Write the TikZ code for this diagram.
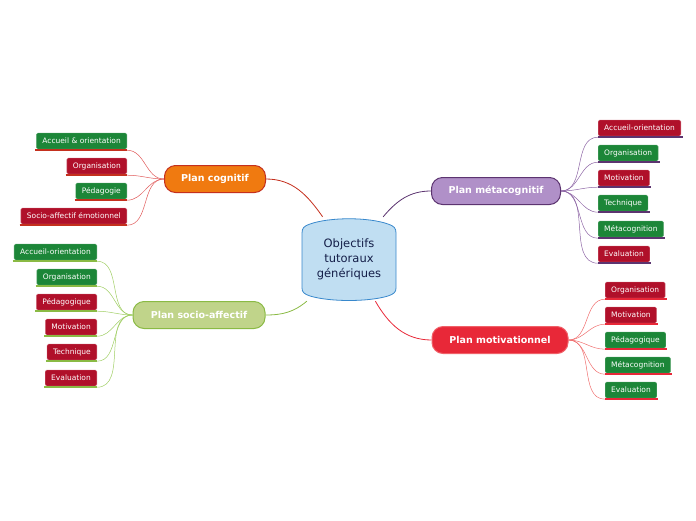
\documentclass[tikz,border=0pt]{standalone}
\usepackage{fontspec}
\setmainfont{DejaVu Sans}
\usetikzlibrary{backgrounds}

\definecolor{leafgreen}{RGB}{28,134,56}
\definecolor{leafred}{RGB}{176,16,42}
\definecolor{hubfill}{RGB}{192,222,242}
\definecolor{hubdraw}{RGB}{56,136,204}
\definecolor{hubtext}{RGB}{20,30,72}
\definecolor{cogfill}{RGB}{240,122,16}
\definecolor{cogdraw}{RGB}{196,48,30}
\definecolor{cogwire}{RGB}{224,90,90}
\definecolor{socfill}{RGB}{192,212,138}
\definecolor{socdraw}{RGB}{138,186,68}
\definecolor{socwire}{RGB}{160,206,100}
\definecolor{metafill}{RGB}{176,144,200}
\definecolor{metadraw}{RGB}{92,52,112}
\definecolor{metawire}{RGB}{140,100,164}
\definecolor{motfill}{RGB}{232,40,56}
\definecolor{motdraw}{RGB}{240,96,104}
\definecolor{motwire}{RGB}{240,110,110}

\begin{document}
\begin{tikzpicture}[
    x=1pt, y=-1pt,
    every node/.style={font=\fontsize{7.5}{9}\selectfont},
    hub/.style={
        fill=hubfill,
        draw=hubdraw,
        line width=0.8pt,
    },
    plan/.style={
        rounded corners=11pt,
        minimum height=27pt,
        inner xsep=0pt,
        text=white,
        line width=1pt,
        font=\fontsize{9.5}{11}\selectfont\bfseries,
    },
    leaf/.style={
        rounded corners=1.5pt,
        minimum height=16pt,
        inner xsep=6pt,
        inner ysep=0pt,
        text=white,
        line width=0.4pt,
    },
    greenleaf/.style={leaf, fill=leafgreen, draw=leafgreen!70!white},
    redleaf/.style={leaf, fill=leafred, draw=leafred!60!white},
    wire/.style={line width=0.5pt},
    bar/.style={line width=1.5pt},
]

\useasboundingbox (0,0) rectangle (696,520);

% --- Central topic ---
\node[align=center, text=hubtext, minimum width=94pt, minimum height=84pt,
      font=\fontsize{11.5}{15}\selectfont] (obj) at (349,259)
    {Objectifs\\tutoraux\\génériques};

% --- Main branches ---
\node[plan, fill=cogfill, draw=cogdraw, minimum width=101pt] (cog) at (215,179) {Plan cognitif};
\node[plan, fill=socfill, draw=socdraw, minimum width=132pt] (soc) at (199,315) {Plan socio-affectif};
\node[plan, fill=metafill, draw=metadraw, minimum width=129pt] (meta) at (496,191) {Plan métacognitif};
\node[plan, fill=motfill, draw=motdraw, minimum width=136pt] (mot) at (500,340) {Plan motivationnel};

% --- Plan cognitif leaves ---
\node[greenleaf, anchor=east] (cogA) at (127,141) {Accueil \& orientation};
\node[redleaf, anchor=east] (cogB) at (127,166) {Organisation};
\node[greenleaf, anchor=east] (cogC) at (127,191) {Pédagogie};
\node[redleaf, anchor=east] (cogD) at (127,216) {Socio-affectif émotionnel};

% --- Plan socio-affectif leaves ---
\node[greenleaf, anchor=east] (socA) at (97,252) {Accueil-orientation};
\node[greenleaf, anchor=east] (socB) at (97,277) {Organisation};
\node[redleaf, anchor=east] (socC) at (97,302) {Pédagogique};
\node[redleaf, anchor=east] (socD) at (97,327) {Motivation};
\node[redleaf, anchor=east] (socE) at (97,352) {Technique};
\node[redleaf, anchor=east] (socF) at (97,378) {Evaluation};

% --- Plan métacognitif leaves ---
\node[redleaf, anchor=west] (metaA) at (598,128) {Accueil-orientation};
\node[greenleaf, anchor=west] (metaB) at (598,153) {Organisation};
\node[redleaf, anchor=west] (metaC) at (598,178) {Motivation};
\node[greenleaf, anchor=west] (metaD) at (598,203) {Technique};
\node[greenleaf, anchor=west] (metaE) at (598,229) {Métacognition};
\node[redleaf, anchor=west] (metaF) at (598,254) {Evaluation};

% --- Plan motivationnel leaves ---
\node[redleaf, anchor=west] (motA) at (605,290) {Organisation};
\node[redleaf, anchor=west] (motB) at (605,315) {Motivation};
\node[greenleaf, anchor=west] (motC) at (605,340) {Pédagogique};
\node[greenleaf, anchor=west] (motD) at (605,365) {Métacognition};
\node[greenleaf, anchor=west] (motE) at (605,390) {Evaluation};

% --- Underlines and wires ---
\foreach \n in {cogA,cogB,cogC,cogD} {
    \draw[wire, cogwire] (cog.west) to[out=180, in=0] ([yshift=-1pt]\n.south east);
    \draw[bar, cogdraw] ([xshift=-1pt, yshift=-1pt]\n.south west) -- ([yshift=-1pt]\n.south east);
}
\foreach \n in {socA,socB,socC,socD,socE,socF} {
    \draw[wire, socwire] (soc.west) to[out=180, in=0] ([yshift=-1pt]\n.south east);
    \draw[bar, socdraw] ([xshift=-1pt, yshift=-1pt]\n.south west) -- ([yshift=-1pt]\n.south east);
}
\foreach \n in {metaA,metaB,metaC,metaD,metaE,metaF} {
    \draw[wire, metawire] (meta.east) to[out=0, in=180] ([yshift=-1pt]\n.south west);
    \draw[bar, metadraw] ([yshift=-1pt]\n.south west) -- ([xshift=1.5pt, yshift=-1pt]\n.south east);
}
\foreach \n in {motA,motB,motC,motD,motE} {
    \draw[wire, motwire] (mot.east) to[out=0, in=180] ([yshift=-1pt]\n.south west);
    \draw[bar, motfill] ([yshift=-1pt]\n.south west) -- ([xshift=1.5pt, yshift=-1pt]\n.south east);
}

% --- Hub shape and its links, behind the text ---
\begin{pgfonlayer}{background}
\draw[line width=0.8pt, cogdraw] (obj.122) to[out=125, in=0] (cog.east);
\draw[line width=0.8pt, socdraw] (obj.225) to[out=220, in=0] (soc.east);
\draw[line width=0.8pt, metadraw] (obj.51) to[out=50, in=180] (meta.west);
\draw[line width=0.8pt, motfill] (obj.302) to[out=300, in=180] (mot.west);
\draw[hub] (302,233) -- (302,288)
    .. controls (302,292) and (304,294) .. (310,296)
    .. controls (330,302) and (368,302) .. (388,296)
    .. controls (394,294) and (396,292) .. (396,288)
    -- (396,233)
    .. controls (396,228) and (394,226) .. (388,224)
    .. controls (368,217) and (330,217) .. (310,224)
    .. controls (304,226) and (302,228) .. (302,233) -- cycle;
\end{pgfonlayer}

\end{tikzpicture}
\end{document}
